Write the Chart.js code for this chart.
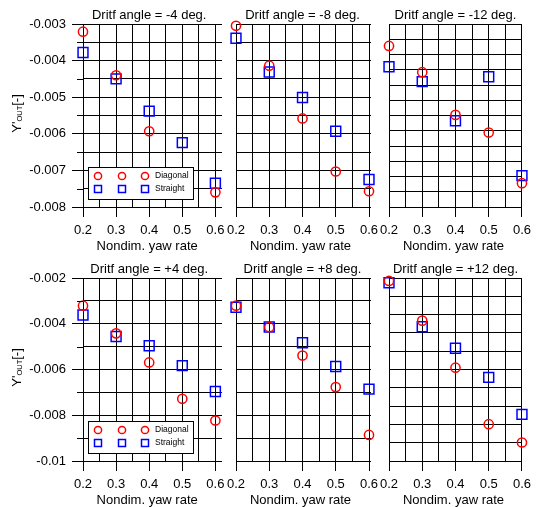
<!DOCTYPE html>
<html><head><meta charset="utf-8">
<script src="https://cdn.jsdelivr.net/npm/chart.js@4.4.1/dist/chart.umd.min.js"></script>
<style>
html,body{margin:0;padding:0;background:#fff;}
#wrap{position:relative;width:537px;height:507px;overflow:hidden;background:#fff;}
canvas{position:absolute;left:0;top:0;}
</style></head><body><div id="wrap"></div>
<script>
// ---- data ----
const categories = [0.2, 0.3, 0.4, 0.5, 0.6];
const xTicks = [0.2, 0.25, 0.3, 0.35, 0.4, 0.45, 0.5, 0.55, 0.6];
const xLabels = [0.2, 0.3, 0.4, 0.5, 0.6];

const diag_m4  = [-0.00321, -0.00440, -0.00593, null,     -0.00760];
const str_m4   = [-0.00378, -0.00450, -0.00538, -0.00624, -0.00735];
const diag_m8  = [-0.00305, -0.00414, -0.00558, -0.00703, -0.00757];
const str_m8   = [-0.00339, -0.00431, -0.00501, -0.00593, -0.00725];
const diag_m12 = [-0.00372, -0.00458, -0.00598, -0.00656, -0.00822];
const str_m12  = [-0.00440, -0.00489, -0.00617, -0.00473, -0.00797];
const diag_p4  = [-0.00321, -0.00442, -0.00569, -0.00728, -0.00823];
const str_p4   = [-0.00362, -0.00456, -0.00496, -0.00583, -0.00696];
const diag_p8  = [-0.00321, -0.00415, -0.00539, -0.00677, -0.00886];
const str_p8   = [-0.00328, -0.00414, -0.00483, -0.00587, -0.00686];
const diag_p12 = [-0.00216, -0.00433, -0.00690, -0.00999, -0.01099];
const str_p12  = [-0.00226, -0.00466, -0.00584, -0.00743, -0.00945];

const yTicksTop = [-0.008,-0.0075,-0.007,-0.0065,-0.006,-0.0055,-0.005,-0.0045,-0.004,-0.0035,-0.003];
const yLabelsTop = [-0.008,-0.007,-0.006,-0.005,-0.004,-0.003];
const yTicksTopRight = [-0.009,-0.0085,-0.008,-0.0075,-0.007,-0.0065,-0.006,-0.0055,-0.005,-0.0045,-0.004,-0.0035,-0.003];
const yTicksBot = [-0.010,-0.009,-0.008,-0.007,-0.006,-0.005,-0.004,-0.003,-0.002];
const yLabelsBot = [-0.010,-0.008,-0.006,-0.004,-0.002];
const yTicksBotRight = [-0.012,-0.011,-0.010,-0.009,-0.008,-0.007,-0.006,-0.005,-0.004,-0.003,-0.002];

const titles = ['Dritf angle = -4 deg.','Dritf angle = -8 deg.','Dritf angle = -12 deg.',
                'Dritf angle = +4 deg.','Dritf angle = +8 deg.','Dritf angle = +12 deg.'];
const seriesNames = ['Diagonal','Straight'];
const xTitle = 'Nondim. yaw rate';

// ---- layout ----
const W = 537, H = 507;
const FONT = '"Liberation Sans", Arial, Helvetica, sans-serif';
const near = (a,b) => Math.abs(a-b) < 1e-9;
const rows = [{T:24,B:207},{T:278,B:461}];
const cols = [{L:83,R:222,xMax:0.62},{L:236,R:371,xMax:0.606},{L:389,R:522,xMax:0.6}];
const X_AXIS_H = 34, Y_AXIS_W = 62;

const panels = [
  {t:titles[0], d:diag_m4,  s:str_m4,  yT:yTicksTop,      yL:yLabelsTop, r:0, c:0},
  {t:titles[1], d:diag_m8,  s:str_m8,  yT:yTicksTop,      yL:[],         r:0, c:1},
  {t:titles[2], d:diag_m12, s:str_m12, yT:yTicksTopRight, yL:[],         r:0, c:2},
  {t:titles[3], d:diag_p4,  s:str_p4,  yT:yTicksBot,      yL:yLabelsBot, r:1, c:0},
  {t:titles[4], d:diag_p8,  s:str_p8,  yT:yTicksBot,      yL:[],         r:1, c:1},
  {t:titles[5], d:diag_p12, s:str_p12, yT:yTicksBotRight, yL:[],         r:1, c:2},
];

const RED = '#ff0000', BLUE = '#0000ff';

function decor(p){
  const first = p.c === 0;
  return {
    id:'decor',
    afterDraw(chart){
      const ctx = chart.ctx, a = chart.chartArea, xs = chart.scales.x, ys = chart.scales.y;
      const cx = (xs.getPixelForValue(0.2) + xs.getPixelForValue(0.6)) / 2;
      ctx.save();
      ctx.fillStyle = '#000';
      ctx.font = '13px ' + FONT;
      ctx.textAlign = 'center';
      ctx.textBaseline = 'middle';
      ctx.fillText(p.t, cx, a.top - 9);
      ctx.fillText(xTitle, cx - 2, a.bottom + 39);
      if (first) {
        // minor y ticks
        ctx.strokeStyle = '#000'; ctx.lineWidth = 1;
        ys.ticks.forEach(tk => {
          if (!p.yL.some(l => near(l, tk.value))) {
            const y = Math.round(ys.getPixelForValue(tk.value)) + 0.5;
            ctx.beginPath(); ctx.moveTo(a.left - 6, y); ctx.lineTo(a.left, y); ctx.stroke();
          }
        });
        // y title with subscript
        ctx.save();
        ctx.translate(21, (a.top + a.bottom) / 2 - 2);
        ctx.rotate(-Math.PI / 2);
        ctx.textAlign = 'left'; ctx.textBaseline = 'alphabetic';
        const parts = [['Y\'', 13, 0], ['OUT', 7.5, 1], ['[-]', 13, 0]];
        let tw = 0;
        parts.forEach(pt => { ctx.font = pt[1] + 'px ' + FONT; tw += ctx.measureText(pt[0]).width; });
        let x = -tw / 2;
        parts.forEach(pt => { ctx.font = pt[1] + 'px ' + FONT; ctx.fillText(pt[0], x, pt[2]); x += ctx.measureText(pt[0]).width; });
        ctx.restore();
        // legend
        const bx = a.left + 5, by = a.bottom - 40, bw = 105, bh = 32;
        ctx.fillStyle = '#fff';
        ctx.fillRect(bx, by, bw, bh);
        ctx.strokeStyle = '#000'; ctx.lineWidth = 1;
        ctx.strokeRect(bx + 0.5, by + 0.5, bw, bh);
        ctx.lineWidth = 1.5;
        const mx = [15, 39, 62];
        const r1 = a.bottom - 31, r2 = a.bottom - 18;
        mx.forEach(o => {
          ctx.strokeStyle = RED;
          ctx.beginPath(); ctx.arc(a.left + o, r1, 3.6, 0, Math.PI * 2); ctx.stroke();
          ctx.strokeStyle = BLUE;
          ctx.strokeRect(a.left + o - 3.5, r2 - 3.5, 7, 7);
        });
        ctx.fillStyle = '#000';
        ctx.font = '8.5px ' + FONT;
        ctx.textAlign = 'left'; ctx.textBaseline = 'middle';
        ctx.fillText(seriesNames[0], a.left + 72, r1);
        ctx.fillText(seriesNames[1], a.left + 72, r2);
      }
      ctx.restore();
    }
  };
}

const wrap = document.getElementById('wrap');
panels.forEach(p => {
  const row = rows[p.r], col = cols[p.c];
  const first = p.c === 0;
  const yw = first ? Y_AXIS_W : 0;
  const cv = document.createElement('canvas');
  cv.width = W; cv.height = H;
  wrap.appendChild(cv);
  const yMin = Math.min(...p.yT), yMax = Math.max(...p.yT);
  const toPts = arr => categories.map((x, i) => ({x: x, y: arr[i]})).filter(d => d.y !== null);
  new Chart(cv, {
    type: 'scatter',
    data: {datasets: [
      {label: seriesNames[0], data: toPts(p.d), pointStyle: 'circle', radius: 4.6, borderColor: RED,
       backgroundColor: 'rgba(0,0,0,0)', borderWidth: 1.5, clip: false},
      {label: seriesNames[1], data: toPts(p.s), pointStyle: 'rect', radius: 7, borderColor: BLUE,
       backgroundColor: 'rgba(0,0,0,0)', borderWidth: 1.5, clip: false}
    ]},
    options: {
      responsive: false, animation: false, devicePixelRatio: 1,
      layout: {padding: {left: col.L - yw, right: W - col.R, top: row.T, bottom: H - row.B - X_AXIS_H}},
      plugins: {legend: {display: false}, tooltip: {enabled: false}, title: {display: false}},
      scales: {
        x: {
          type: 'linear', position: 'bottom', min: 0.2, max: col.xMax,
          afterBuildTicks: ax => { ax.ticks = xTicks.map(v => ({value: v})); },
          afterFit: ax => { ax.height = X_AXIS_H; },
          border: {display: false},
          grid: {color: '#000', lineWidth: 1, tickLength: 10,
                 tickColor: c => (c.tick && xLabels.some(l => near(l, c.tick.value))) ? '#000' : 'rgba(0,0,0,0)'},
          ticks: {autoSkip: false, maxRotation: 0, minRotation: 0, padding: 6, color: '#000',
                  font: {family: FONT, size: 13},
                  callback: v => xLabels.some(l => near(l, v)) ? v.toFixed(1) : ''}
        },
        y: {
          type: 'linear', position: 'left', min: yMin, max: yMax,
          afterBuildTicks: ax => { ax.ticks = p.yT.map(v => ({value: v})); },
          afterFit: ax => { ax.width = yw; },
          border: {display: false},
          grid: {color: '#000', lineWidth: 1, drawTicks: first, tickLength: 11,
                 tickColor: c => (c.tick && p.yL.some(l => near(l, c.tick.value))) ? '#000' : 'rgba(0,0,0,0)'},
          ticks: {display: first, autoSkip: false, padding: 6, color: '#000',
                  font: {family: FONT, size: 13},
                  callback: v => p.yL.some(l => near(l, v)) ? String(parseFloat(v.toFixed(4))) : ''}
        }
      }
    },
    plugins: [decor(p)]
  });
});
</script>
</body></html>
